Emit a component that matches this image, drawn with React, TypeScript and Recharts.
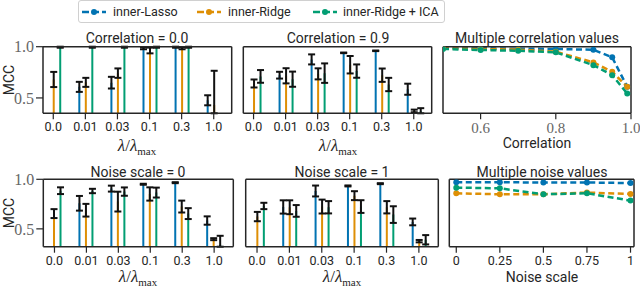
import React from 'react';
import { ComposedChart, Bar, ErrorBar, XAxis, YAxis, LineChart, Line } from 'recharts';

// ---------- data ----------
const lambdaLabels = ['0.0', '0.01', '0.03', '0.1', '0.3', '1.0'];
const lambdaIndex = [0, 1, 2, 3, 4, 5];

// Correlation = 0.0
const c0Lasso = [null, 0.608, 0.649, 0.985, 0.995, 0.477];
const c0LassoErr = [null, [0.049, 0.049], [0.057, 0.057], [0.01, 0.01], [0.005, 0.005], [0.049, 0.049]];
const c0Ridge = [0.68, 0.652, 0.742, 0.963, 0.985, 0.43];
const c0RidgeErr = [[0.074, 0.074], [0.044, 0.044], [0.046, 0.046], [0.028, 0.028], [0.01, 0.01], [0.08, 0.335]];
const c0Ica = [0.995, 0.995, 0.995, 0.995, 0.995, 0.35];
const c0IcaErr = [[0.005, 0.005], [0.005, 0.005], [0.005, 0.005], [0.005, 0.005], [0.005, 0.005], [0, 0.43]];

// Correlation = 0.9
const c9Lasso = [null, 0.722, 0.876, 0.94, 0.96, 0.585];
const c9LassoErr = [null, [0.033, 0.033], [0.049, 0.049], [0.003, 0.003], [0.003, 0.003], [0.054, 0.054]];
const c9Ridge = [0.641, 0.716, 0.735, 0.824, 0.722, 0.373];
const c9RidgeErr = [[0.039, 0.039], [0.074, 0.074], [0.054, 0.054], [0.085, 0.085], [0.065, 0.065], [0.013, 0.013]];
const c9Ica = [0.71, 0.683, 0.742, 0.762, 0.631, 0.37];
const c9IcaErr = [[0.062, 0.062], [0.074, 0.074], [0.095, 0.095], [0.065, 0.065], [0.065, 0.065], [0.02, 0.03]];

// Noise scale = 0
const n0Lasso = [null, 0.758, 0.906, 0.95, 0.966, 0.584];
const n0LassoErr = [null, [0.074, 0.074], [0.03, 0.03], [0.005, 0.005], [0.005, 0.005], [0.042, 0.042]];
const n0Ridge = [0.654, 0.688, 0.775, 0.852, 0.725, 0.396];
const n0RidgeErr = [[0.045, 0.045], [0.064, 0.064], [0.1, 0.1], [0.067, 0.067], [0.06, 0.06], [0.01, 0.01]];
const n0Ica = [0.885, 0.882, 0.876, 0.866, 0.654, 0.34];
const n0IcaErr = [[0.034, 0.034], [0.022, 0.022], [0.042, 0.042], [0.05, 0.05], [0.055, 0.055], [0.02, 0.09]];

// Noise scale = 1
const n1Lasso = [null, 0.721, 0.882, 0.933, 0.956, 0.57];
const n1LassoErr = [null, [0.067, 0.067], [0.055, 0.055], [0.005, 0.005], [0.005, 0.005], [0.034, 0.034]];
const n1Ridge = [0.624, 0.718, 0.725, 0.835, 0.718, 0.376];
const n1RidgeErr = [[0.047, 0.047], [0.07, 0.07], [0.07, 0.07], [0.045, 0.045], [0.062, 0.062], [0.012, 0.012]];
const n1Ica = [0.731, 0.681, 0.718, 0.725, 0.644, 0.39];
const n1IcaErr = [[0.032, 0.032], [0.059, 0.059], [0.062, 0.062], [0.064, 0.064], [0.084, 0.084], [0.047, 0.047]];

// Multiple correlation values
const corrValues = [0.5, 0.6, 0.7, 0.8, 0.9, 0.95, 0.99];
const corrLasso = [0.99, 0.985, 0.98, 0.978, 0.97, 0.896, 0.608];
const corrRidge = [0.985, 0.978, 0.971, 0.951, 0.847, 0.755, 0.608];
const corrIca = [0.978, 0.968, 0.96, 0.945, 0.82, 0.722, 0.543];
const corrTicks = [0.6, 0.8, 1.0];

// Multiple noise values
const noiseValues = [0, 0.25, 0.5, 0.75, 1];
const noiseLasso = [0.97, 0.97, 0.968, 0.968, 0.962];
const noiseRidge = [0.859, 0.849, 0.849, 0.866, 0.852];
const noiseIca = [0.916, 0.909, 0.849, 0.859, 0.785];
const noiseTicks = [0, 0.25, 0.5, 0.75, 1];
const noiseTickLabels = ['0', '0.25', '0.5', '0.75', '1'];

const seriesNames = ['inner-Lasso', 'inner-Ridge', 'inner-Ridge + ICA'];

// ---------- styles ----------
const BLUE = '#0173B2';
const ORANGE = '#DE8F05';
const GREEN = '#029E73';
const COLORS = [BLUE, ORANGE, GREEN];
const INK = '#262626';
const frameLine = { stroke: INK, strokeWidth: 1.5 };
const tickLineStyle = { stroke: INK, strokeWidth: 1.2 };
const sansTick = { fontFamily: 'Roboto', fontSize: 12.5, fill: INK };
const serifTick = { fontFamily: 'Liberation Serif', fontSize: 16, fill: '#666' };

type Box = { left: number; right: number; top: number; bottom: number };

const buildBarRows = (l: any[], le: any[], r: any[], re: any[], g: any[], ge: any[]) =>
  lambdaIndex.map((x, i) => ({ x, lasso: l[i], lassoErr: le[i], ridge: r[i], ridgeErr: re[i], ica: g[i], icaErr: ge[i] }));

const buildLineRows = (xs: number[], l: number[], r: number[], g: number[]) =>
  xs.map((x, i) => ({ x, lasso: l[i], ridge: r[i], ica: g[i] }));

const W = 640;
const H = 288;
const XH = 20; // bottom x-axis area height
const YW = 30; // left y-axis area width

const marginFor = (box: Box) => ({
  top: box.top - 1,
  left: box.left - YW,
  right: W - box.right - 1,
  bottom: H - box.bottom - XH,
});

function BarPanel({ rows, box, xDomain, yDomain, showY }: { rows: any[]; box: Box; xDomain: number[]; yDomain: number[]; showY: boolean }) {
  const keys = ['lasso', 'ridge', 'ica'];
  return (
    <div style={{ position: 'absolute', left: 0, top: 0 }}>
      <ComposedChart width={W} height={H} data={rows} barGap={4.5} margin={marginFor(box)}>
        <XAxis
          xAxisId="b"
          dataKey="x"
          type="number"
          domain={xDomain}
          ticks={lambdaIndex}
          tickFormatter={(v: number) => lambdaLabels[v]}
          height={XH}
          allowDataOverflow
          axisLine={frameLine}
          tickLine={tickLineStyle}
          tickSize={6}
          tickMargin={3}
          tick={sansTick}
          interval={0}
        />
        <XAxis xAxisId="t" orientation="top" dataKey="x" type="number" domain={xDomain} height={1} allowDataOverflow axisLine={frameLine} tick={false} tickLine={false} />
        <YAxis
          yAxisId="l"
          type="number"
          domain={yDomain}
          ticks={[0.5, 1.0]}
          width={YW}
          allowDataOverflow
          axisLine={frameLine}
          tickLine={tickLineStyle}
          tickSize={7}
          tickMargin={2}
          tick={showY ? serifTick : false}
          tickFormatter={(v: number) => v.toFixed(1)}
        />
        <YAxis yAxisId="r" orientation="right" type="number" domain={yDomain} width={1} allowDataOverflow axisLine={frameLine} tick={false} tickLine={false} />
        {keys.map((k, i) => (
          <Bar key={k} xAxisId="b" yAxisId="l" dataKey={k} fill={COLORS[i]} barSize={2} isAnimationActive={false}>
            <ErrorBar dataKey={k + 'Err'} width={3.5} stroke="#111" strokeWidth={2} direction="y" />
          </Bar>
        ))}
      </ComposedChart>
    </div>
  );
}

function LinePanel({ rows, box, xDomain, yDomain, xTicks, xFormat, xTickStyle }: { rows: any[]; box: Box; xDomain: number[]; yDomain: number[]; xTicks: number[]; xFormat: (v: number) => string; xTickStyle: any }) {
  const keys = ['lasso', 'ridge', 'ica'];
  return (
    <div style={{ position: 'absolute', left: 0, top: 0 }}>
      <LineChart width={W} height={H} data={rows} margin={marginFor(box)}>
        <XAxis
          xAxisId="b"
          dataKey="x"
          type="number"
          domain={xDomain}
          ticks={xTicks}
          tickFormatter={xFormat}
          height={XH}
          allowDataOverflow
          axisLine={frameLine}
          tickLine={tickLineStyle}
          tickSize={6}
          tickMargin={3}
          tick={xTickStyle}
          interval={0}
        />
        <XAxis xAxisId="t" orientation="top" dataKey="x" type="number" domain={xDomain} height={1} allowDataOverflow axisLine={frameLine} tick={false} tickLine={false} />
        <YAxis yAxisId="l" type="number" domain={yDomain} ticks={[0.5, 1.0]} width={YW} allowDataOverflow axisLine={frameLine} tickLine={tickLineStyle} tickSize={7} tick={false} />
        <YAxis yAxisId="r" orientation="right" type="number" domain={yDomain} width={1} allowDataOverflow axisLine={frameLine} tick={false} tickLine={false} />
        {keys.map((k, i) => (
          <Line
            key={k}
            xAxisId="b"
            yAxisId="l"
            dataKey={k}
            stroke={COLORS[i]}
            strokeWidth={2.5}
            strokeDasharray="6 3.5"
            dot={{ r: 3, fill: COLORS[i], stroke: COLORS[i], strokeWidth: 0, strokeDasharray: '' }}
            isAnimationActive={false}
          />
        ))}
      </LineChart>
    </div>
  );
}

const txt = (content: React.ReactNode, x: number, y: number, extra: React.CSSProperties = {}) => (
  <div
    style={{
      position: 'absolute',
      left: x,
      top: y,
      transform: 'translate(-50%, -50%)',
      whiteSpace: 'nowrap',
      fontFamily: 'Roboto',
      fontSize: 14,
      color: INK,
      lineHeight: 1,
      ...extra,
    }}
  >
    {content}
  </div>
);

const lambdaLabel = (
  <span style={{ fontFamily: 'Liberation Serif', fontSize: 17 }}>
    <i>λ</i>/<i>λ</i>
    <span style={{ fontSize: 11, position: 'relative', top: 4 }}>max</span>
  </span>
);

function LegendBox() {
  const items = [
    { icon: 82, text: 113 },
    { icon: 197, text: 228 },
    { icon: 313, text: 343 },
  ];
  return (
    <div style={{ position: 'absolute', left: 78, top: 0, width: 367, height: 23, border: '1px solid #d0d0d0', borderRadius: 3, boxSizing: 'border-box', background: '#fff' }}>
      {items.map((it, i) => (
        <React.Fragment key={i}>
          <svg style={{ position: 'absolute', left: it.icon - 79, top: 5 }} width={24} height={12}>
            <line x1={0} y1={6} x2={24} y2={6} stroke={COLORS[i]} strokeWidth={2.5} strokeDasharray="7 3" />
            <circle cx={12} cy={6} r={3} fill={COLORS[i]} />
          </svg>
          <div style={{ position: 'absolute', left: it.text - 79, top: 3, fontFamily: 'Roboto', fontSize: 12.5, color: INK, whiteSpace: 'nowrap', lineHeight: '15px' }}>
            {seriesNames[i]}
          </div>
        </React.Fragment>
      ))}
    </div>
  );
}

export default function App() {
  const topY = [0.35, 1.0];
  const botY = [0.32, 1.0];
  const topX = [-0.32, 5.56];
  const botX = [-0.35, 5.6];
  return (
    <div style={{ position: 'absolute', left: 0, top: 0, width: W, height: H, background: '#fff', overflow: 'hidden' }}>
      <BarPanel rows={buildBarRows(c0Lasso, c0LassoErr, c0Ridge, c0RidgeErr, c0Ica, c0IcaErr)} box={{ left: 43, right: 231.7, top: 46.7, bottom: 113.3 }} xDomain={topX} yDomain={topY} showY />
      <BarPanel rows={buildBarRows(c9Lasso, c9LassoErr, c9Ridge, c9RidgeErr, c9Ica, c9IcaErr)} box={{ left: 243.3, right: 431.7, top: 46.7, bottom: 113.3 }} xDomain={topX} yDomain={topY} showY={false} />
      <LinePanel
        rows={buildLineRows(corrValues, corrLasso, corrRidge, corrIca)}
        box={{ left: 443, right: 631, top: 46.7, bottom: 113.3 }}
        xDomain={[0.5, 1.0]}
        yDomain={topY}
        xTicks={corrTicks}
        xFormat={(v: number) => v.toFixed(1)}
        xTickStyle={{ ...serifTick, fontSize: 15 }}
      />
      <BarPanel rows={buildBarRows(n0Lasso, n0LassoErr, n0Ridge, n0RidgeErr, n0Ica, n0IcaErr)} box={{ left: 43.3, right: 233.3, top: 179.3, bottom: 246.7 }} xDomain={botX} yDomain={botY} showY />
      <BarPanel rows={buildBarRows(n1Lasso, n1LassoErr, n1Ridge, n1RidgeErr, n1Ica, n1IcaErr)} box={{ left: 245.7, right: 438.3, top: 179.3, bottom: 246.7 }} xDomain={botX} yDomain={botY} showY={false} />
      <LinePanel
        rows={buildLineRows(noiseValues, noiseLasso, noiseRidge, noiseIca)}
        box={{ left: 449.3, right: 634, top: 179.3, bottom: 246.7 }}
        xDomain={[-0.04, 1.02]}
        yDomain={botY}
        xTicks={noiseTicks}
        xFormat={(v: number) => noiseTickLabels[noiseTicks.indexOf(v)]}
        xTickStyle={sansTick}
      />

      {txt('Correlation = 0.0', 137, 38)}
      {txt('Correlation = 0.9', 338, 38)}
      {txt('Multiple correlation values', 537, 38)}
      {txt('Noise scale = 0', 138, 171.5)}
      {txt('Noise scale = 1', 342, 171.5)}
      {txt('Multiple noise values', 542, 171.5)}

      {txt(lambdaLabel, 137, 145)}
      {txt(lambdaLabel, 338, 145)}
      {txt('Correlation', 537, 143)}
      {txt(lambdaLabel, 138, 276)}
      {txt(lambdaLabel, 342, 276)}
      {txt('Noise scale', 542, 277)}

      {txt('MCC', 8.5, 80, { transform: 'translate(-50%, -50%) rotate(-90deg)' })}
      {txt('MCC', 8.5, 213, { transform: 'translate(-50%, -50%) rotate(-90deg)' })}

      <LegendBox />
    </div>
  );
}
